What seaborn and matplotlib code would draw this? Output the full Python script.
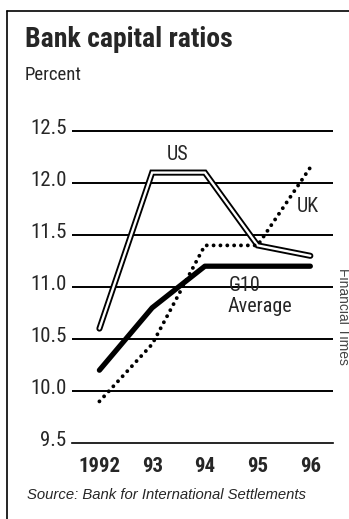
import pandas as pd
import seaborn as sns
import matplotlib.pyplot as plt
from matplotlib.lines import Line2D
from matplotlib.transforms import ScaledTranslation

# data
years = [1992, 1993, 1994, 1995, 1996]
year_labels = ["1992", "93", "94", "95", "96"]
us = [10.6, 12.1, 12.1, 11.4, 11.3]
uk = [9.9, 10.45, 11.4, 11.4, 12.15]
g10 = [10.2, 10.8, 11.2, 11.2, 11.2]
y_ticks = [9.5, 10.0, 10.5, 11.0, 11.5, 12.0, 12.5]
y_labels = ["9.5", "10.0", "10.5", "11.0", "11.5", "12.0", "12.5"]

df = pd.DataFrame({"year": years, "US": us, "UK": uk, "G10": g10})

sns.set_style("white")
narrow = ["Roboto Condensed", "DejaVu Sans"]
plain = ["Liberation Sans", "DejaVu Sans"]
plt.rcParams["font.family"] = narrow

fig = plt.figure(figsize=(3.49, 5.19), dpi=100)
ax = fig.add_axes([72 / 349, 76 / 519, 261 / 349, 312 / 519])
ax.set_xlim(1991.48, 1996.43)
ax.set_ylim(9.5, 12.5)

# horizontal rules
ax.hlines(y_ticks[1:], 1991.48, 1996.43, color="black", lw=1.4, clip_on=False, zorder=1)

# US: double (outlined) line
sns.lineplot(data=df, x="year", y="US", ax=ax, color="black", lw=4.4,
             solid_capstyle="round", solid_joinstyle="miter", clip_on=False, zorder=3)
sns.lineplot(data=df, x="year", y="US", ax=ax, color="white", lw=1.7,
             solid_capstyle="round", solid_joinstyle="miter", clip_on=False, zorder=4)
# G10 average: heavy solid
sns.lineplot(data=df, x="year", y="G10", ax=ax, color="black", lw=3.8,
             solid_capstyle="round", clip_on=False, zorder=5)
# UK: dotted
sns.lineplot(data=df, x="year", y="UK", ax=ax, color="black", lw=2.8,
             clip_on=False, zorder=6)
uk_line = ax.lines[-1]
uk_line.set_linestyle((0, (0.01, 1.75)))
uk_line.set_dash_capstyle("round")

for s in ["top", "right", "left"]:
    ax.spines[s].set_visible(False)
ax.spines["bottom"].set_linewidth(1.2)
ax.spines["bottom"].set_color("black")

ax.set_xticks(years)
ax.set_xticklabels(year_labels, fontsize=15, fontweight="bold")
ax.set_xticks([y - 0.5 for y in years], minor=True)
ax.tick_params(axis="x", which="major", length=0, pad=10)
ax.tick_params(axis="x", which="minor", direction="in", length=10.5, width=0.8, color="black")
ax.set_yticks(y_ticks)
ax.set_yticklabels(y_labels, fontsize=15)
ax.tick_params(axis="y", length=0, pad=4)
for lab in ax.get_yticklabels():
    lab.set_transform(lab.get_transform() + ScaledTranslation(0, 3 / 72, fig.dpi_scale_trans))
ax.set_xlabel("")
ax.set_ylabel("")
ax.grid(False)

# series labels
ax.text(1993.48, 12.27, "US", ha="center", va="center", fontsize=14.5)
ax.text(1995.96, 11.77, "UK", ha="center", va="center", fontsize=14.5)
ax.text(1994.45, 11.01, "G10", ha="left", va="center", fontsize=14.5)
ax.text(1994.43, 10.81, "Average", ha="left", va="center", fontsize=14.5)

# titles and notes
fig.text(25 / 349, 0.9094, "Bank capital ratios", fontsize=20, fontweight="bold", va="baseline")
fig.text(25 / 349, 0.8459, "Percent", fontsize=13.5, va="baseline")
fig.text(27 / 349, 0.0385, "Source: Bank for International Settlements", fontsize=10.7,
         style="italic", va="baseline", family=plain)
fig.text(343 / 349, (519 - 316) / 519, "Financial Times", rotation=270, ha="center",
         va="center", fontsize=10, color="#444444", family=plain)

# frame: top and left rules
fig.add_artist(Line2D([6.5 / 349, 1], [0.9788, 0.9788], color="black", lw=1.2))
fig.add_artist(Line2D([6.5 / 349, 6.5 / 349], [0, 0.9788], color="black", lw=1.2))

fig.savefig("out.png", dpi=100)
